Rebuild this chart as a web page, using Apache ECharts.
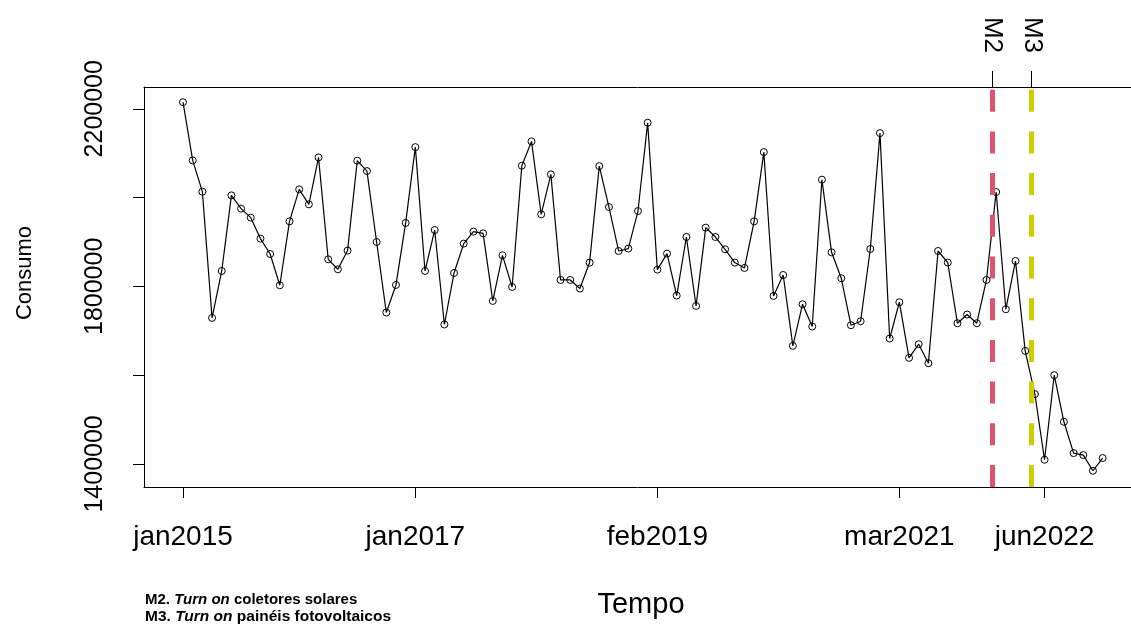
<!DOCTYPE html>
<html>
<head>
<meta charset="utf-8">
<script src="https://cdn.jsdelivr.net/npm/echarts@6/dist/echarts.min.js"></script>
<style>
html,body{margin:0;padding:0;background:#fff;}
#chart{width:1131px;height:624px;}
</style>
</head>
<body>
<div id="chart"></div>
<script>
// Monthly consumption, jan2015 .. dec2022 (index 0 = jan2015)
var consumo = [
  2214800, 2083700, 2013200, 1728900, 1834600, 2004900, 1975000, 1954700, 1907500, 1872800,
  1802400, 1946400, 2018400, 1984700, 2090400, 1860900, 1838400, 1880500, 2083000, 2059600,
  1899900, 1741000, 1803100, 1942800, 2113600, 1834600, 1926800, 1714000, 1830100, 1896300,
  1923300, 1919400, 1767100, 1869900, 1798600, 2071700, 2126400, 1962200, 2052200, 1814400,
  1814400, 1795000, 1853500, 2070800, 1978600, 1879600, 1885000, 1969600, 2168500, 1837700,
  1873700, 1779200, 1911100, 1755900, 1932200, 1911100, 1883400, 1853500, 1841400, 1946400,
  2102400, 1778400, 1825600, 1665900, 1759700, 1709500, 2040200, 1876600, 1818200, 1712400,
  1721400, 1884100, 2145100, 1682500, 1764200, 1638900, 1669700, 1626900, 1879600, 1853500,
  1716900, 1736500, 1716900, 1814400, 2012400, 1748400, 1857200, 1654600, 1557200, 1409400,
  1599900, 1494900, 1424400, 1419900, 1384600, 1413200
];
// x tick positions (month index) and labels
var xTickPos = [0, 24, 49, 74, 89];
var xTickLabels = ['jan2015', 'jan2017', 'feb2019', 'mar2021', 'jun2022'];
// y ticks
var yTicks = [1400000, 1600000, 1800000, 2000000, 2200000];
var yLabelTicks = [1400000, 1800000, 2200000];
// event markers (month index position)
var markerPos = [83.57, 87.67];
var markerNames = ['M2', 'M3'];
var markerColors = ['#DF536B', '#CDCD00'];
var notes = [
  ['M2. ', 'Turn on', ' coletores solares'],
  ['M3. ', 'Turn on', ' painéis fotovoltaicos']
];

var FONT = '"Liberation Sans", Arial, sans-serif';
var X_MIN = -4.03, X_MAX = 97.93;
var chart = echarts.init(document.getElementById('chart'), null, {renderer: 'canvas'});

var seriesData = consumo.map(function (v, i) { return [i, v]; });
var xLabelMap = {};
xTickPos.forEach(function (p, i) { xLabelMap[p] = xTickLabels[i]; });
var topLabelMap = {};
markerPos.forEach(function (p, i) { topLabelMap[p] = markerNames[i]; });

var markLines = markerPos.map(function (p, i) {
  return {
    xAxis: p,
    lineStyle: {color: markerColors[i], width: 5, type: [22, 19.7], cap: 'butt'}
  };
});

chart.setOption({
  animation: false,
  backgroundColor: '#fff',
  grid: {
    left: 144, top: 87, right: 0, bottom: 137,
    show: false, containLabel: false
  },
  xAxis: [{
    type: 'value', min: X_MIN, max: X_MAX, position: 'bottom',
    axisLine: {show: true, onZero: false, lineStyle: {color: '#000', width: 1}},
    axisTick: {show: true, length: 11, lineStyle: {color: '#000', width: 1}, customValues: xTickPos},
    axisLabel: {
      show: true, customValues: xTickPos, margin: 36, color: '#000',
      fontFamily: FONT, fontSize: 28,
      formatter: function (v) { return xLabelMap[v] || ''; }
    },
    splitLine: {show: false}
  }, {
    type: 'value', min: X_MIN, max: X_MAX, position: 'top',
    axisLine: {show: true, onZero: false, lineStyle: {color: '#000', width: 1}},
    axisTick: {show: true, length: 16, lineStyle: {color: '#000', width: 1}, customValues: markerPos},
    axisLabel: {
      show: true, customValues: markerPos, rotate: 90, margin: 34, color: '#000',
      fontFamily: FONT, fontSize: 26,
      formatter: function (v) { return topLabelMap[v] || ''; }
    },
    splitLine: {show: false}
  }],
  yAxis: {
    type: 'value', min: 1348000, max: 2249000,
    axisLine: {show: true, onZero: false, lineStyle: {color: '#000', width: 1}},
    axisTick: {show: true, length: 11, lineStyle: {color: '#000', width: 1}, customValues: yTicks},
    axisLabel: {
      show: true, customValues: yLabelTicks, rotate: 90, margin: 36, color: '#000',
      fontFamily: FONT, fontSize: 25,
      formatter: function (v) { return String(v); }
    },
    splitLine: {show: false}
  },
  series: [{
    type: 'line',
    data: seriesData,
    xAxisIndex: 0,
    symbol: 'circle',
    symbolSize: 7,
    showAllSymbol: true,
    lineStyle: {color: '#000', width: 1.2},
    itemStyle: {color: 'rgba(0,0,0,0)', borderColor: '#000', borderWidth: 1},
    emphasis: {disabled: true},
    markLine: {
      silent: true, symbol: 'none', label: {show: false},
      data: markLines, animation: false
    },
    z: 3
  }],
  graphic: [
    {
      type: 'text', x: 641, y: 605,
      style: {text: 'Tempo', font: '29px ' + FONT, fill: '#000', align: 'center', verticalAlign: 'middle'}
    },
    {
      type: 'text', x: 25, y: 273, rotation: Math.PI / 2,
      style: {text: 'Consumo', font: '22px ' + FONT, fill: '#000', align: 'center', verticalAlign: 'middle'}
    },
    {
      type: 'text', x: 145, y: 600,
      style: {
        text: '{b|' + notes[0][0] + '}{i|' + notes[0][1] + '}{b|' + notes[0][2] + '}',
        verticalAlign: 'middle',
        rich: {
          b: {font: 'bold 15px ' + FONT, fill: '#000'},
          i: {font: 'italic bold 15px ' + FONT, fill: '#000'}
        }
      }
    },
    {
      type: 'text', x: 145, y: 617,
      style: {
        text: '{b|' + notes[1][0] + '}{i|' + notes[1][1] + '}{b|' + notes[1][2] + '}',
        verticalAlign: 'middle',
        rich: {
          b: {font: 'bold 15.5px ' + FONT, fill: '#000'},
          i: {font: 'italic bold 15.5px ' + FONT, fill: '#000'}
        }
      }
    }
  ]
});
</script>
</body>
</html>
